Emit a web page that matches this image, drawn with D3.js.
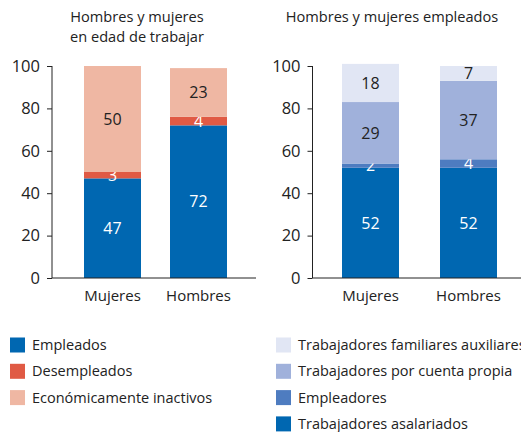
<!DOCTYPE html>
<html>
<head>
<meta charset="utf-8">
<script src="https://cdn.jsdelivr.net/npm/d3@7"></script>
<style>
  html, body { margin: 0; padding: 0; background: #fff; }
  svg { display: block; font-family: "Open Sans", sans-serif; }
</style>
</head>
<body>
<svg id="chart" width="521" height="432"></svg>
<script>
// Categories shared by both panels
const categories = ["Mujeres", "Hombres"];
const yTicks = [0, 20, 40, 60, 80, 100];

// Panel 1: working-age population by labour status (%)
const statusKeys = ["Empleados", "Desempleados", "Económicamente inactivos"];
const statusEmpleados = [47, 72];
const statusDesempleados = [3, 4];
const statusInactivos = [50, 23];
const statusColors = ["#0067b1", "#e05a44", "#efb7a3"];
const statusLabelColors = ["#ffffff", "#ffffff", "#222222"];

// Panel 2: employed population by employment type (%)
const typeKeys = ["Trabajadores asalariados", "Empleadores", "Trabajadores por cuenta propia", "Trabajadores familiares auxiliares"];
const typeAsalariados = [52, 52];
const typeEmpleadores = [2, 4];
const typeCuentaPropia = [29, 37];
const typeFamiliares = [18, 7];
const typeColors = ["#0067b1", "#4e7cc0", "#a0b1db", "#e1e6f4"];
const typeLabelColors = ["#ffffff", "#ffffff", "#222222", "#222222"];

const svg = d3.select("#chart");

function panel(opts) {
  const g = svg.append("g");
  const y = d3.scaleLinear().domain([0, 100]).range([278, 66]);
  // band scale whose bars start at firstLeft and end at lastRight
  const gap = (opts.lastRight - opts.firstLeft) - 2 * opts.barWidth;
  const step = opts.barWidth + gap;
  const pad = gap / step;
  const x = d3.scaleBand().domain(categories)
    .range([opts.firstLeft - gap / 2, opts.lastRight + gap / 2])
    .paddingInner(pad).paddingOuter(pad / 2);

  // title
  const t = g.append("text").attr("text-anchor", "middle").attr("font-size", 14.6).attr("fill", "#222");
  opts.title.forEach((line, i) => {
    t.append("tspan").attr("x", opts.titleX).attr("y", 22 + i * 20).text(line);
  });

  // stacked bars
  const rows = categories.map((c, i) => {
    const r = { cat: c };
    opts.keys.forEach((k, j) => { r[k] = opts.series[j][i]; });
    return r;
  });
  const stacked = d3.stack().keys(opts.keys)(rows);
  stacked.forEach((layer, j) => {
    const lg = g.append("g");
    lg.selectAll("rect").data(layer).join("rect")
      .attr("x", d => x(d.data.cat))
      .attr("width", x.bandwidth())
      .attr("y", d => y(d[1]))
      .attr("height", d => y(d[0]) - y(d[1]))
      .attr("fill", opts.colors[j]);
    lg.selectAll("text").data(layer).join("text")
      .attr("x", d => x(d.data.cat) + x.bandwidth() / 2)
      .attr("y", d => y((d[0] + d[1]) / 2))
      .attr("dy", "0.36em")
      .attr("text-anchor", "middle")
      .attr("font-size", 16)
      .attr("fill", opts.labelColors[j])
      .text(d => d[1] - d[0]);
  });

  // y axis
  const ya = g.append("g").attr("transform", `translate(${opts.axisX},0)`)
    .call(d3.axisLeft(y).tickValues(yTicks).tickSize(5).tickPadding(7));
  ya.select(".domain").attr("stroke", "#222").attr("d", `M0,${y(0)}V${y(100)}`);
  ya.selectAll(".tick line").attr("stroke", "#222");
  ya.selectAll(".tick text").attr("font-size", 16.5).attr("fill", "#222").attr("font-family", "Open Sans, sans-serif");

  // x axis
  const xa = g.append("g").attr("transform", `translate(0,${y(0)})`)
    .call(d3.axisBottom(x).tickSize(0).tickPadding(12));
  xa.select(".domain").attr("stroke", "#222").attr("d", `M${opts.axisX},0H${opts.baseEnd}`);
  xa.selectAll(".tick text").attr("font-size", 15).attr("fill", "#222").attr("font-family", "Open Sans, sans-serif");
}

panel({
  title: ["Hombres y mujeres", "en edad de trabajar"],
  titleX: 137,
  firstLeft: 84,
  lastRight: 227,
  barWidth: 57,
  axisX: 52,
  baseEnd: 256,
  keys: statusKeys,
  series: [statusEmpleados, statusDesempleados, statusInactivos],
  colors: statusColors,
  labelColors: statusLabelColors
});

panel({
  title: ["Hombres y mujeres empleados"],
  titleX: 392,
  firstLeft: 342,
  lastRight: 497,
  barWidth: 57,
  axisX: 312.5,
  baseEnd: 521,
  keys: typeKeys,
  series: [typeAsalariados, typeEmpleadores, typeCuentaPropia, typeFamiliares],
  colors: typeColors,
  labelColors: typeLabelColors
});

// legends
function legend(items, colors, x0, y0) {
  const lg = svg.append("g").attr("transform", `translate(${x0},${y0})`);
  const it = lg.selectAll("g").data(items).join("g")
    .attr("transform", (d, i) => `translate(0,${i * 26.3})`);
  it.append("rect").attr("x", 0).attr("y", -7.5).attr("width", 15).attr("height", 15)
    .attr("fill", (d, i) => colors[i]);
  it.append("text").attr("x", 22).attr("dy", "0.35em").attr("font-size", 14.5).attr("fill", "#222")
    .text(d => d);
}
legend(statusKeys, statusColors, 10, 345);
legend(typeKeys.slice().reverse(), typeColors.slice().reverse(), 276, 345);
</script>
</body>
</html>
